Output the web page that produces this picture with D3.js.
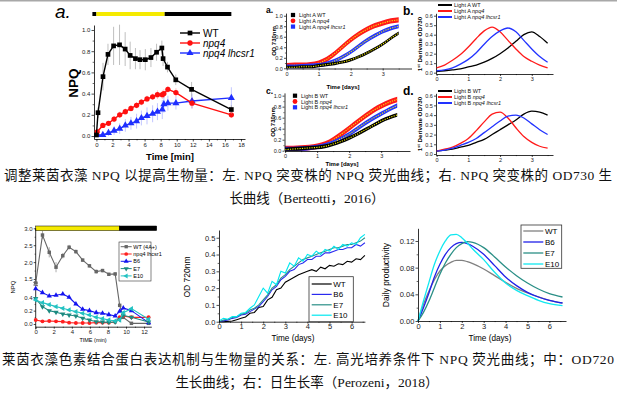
<!DOCTYPE html>
<html>
<head>
<meta charset="utf-8">
<script src="https://cdn.jsdelivr.net/npm/d3@7/dist/d3.min.js"></script>
<style>
body { margin: 0; background: #fff; }
text { font-family: "Liberation Sans", Arial, sans-serif; }
.cap { font-family: "Liberation Serif", "Noto Sans CJK SC", serif; font-size: 13.5px; fill: #111; }
</style>
</head>
<body>
<svg id="fig" width="617" height="395"></svg>
<script>
// ---- top left: NPQ induction (Berteotti) ----
let wtTime = [0, 0.2, 0.82, 1.44, 2.14, 2.88, 3.58, 4.2, 4.86, 5.43, 6.09, 6.79, 7.49, 8.15, 8.3, 8.85, 9.88, 11.85, 16.8];
let wtNpq = [0.01, 0.22, 0.56, 0.77, 0.85, 0.86, 0.82, 0.76, 0.73, 0.72, 0.72, 0.74, 0.79, 0.83, 0.73, 0.65, 0.53, 0.44, 0.25];
let wtErr = [0, 0.05, 0.13, 0.1, 0.18, 0.19, 0.16, 0.13, 0.1, 0.09, 0.1, 0.09, 0.08, 0.07, 0.07, 0.05, 0.05, 0.07, 0.04];
let mutTime = [0.1, 0.8, 1.5, 2.2, 2.9, 3.6, 4.3, 5.0, 5.6, 6.3, 7.0, 7.6, 8.2, 8.4, 8.9, 9.9, 11.9, 16.8];
let npq4Npq = [0.04, 0.1, 0.12, 0.16, 0.2, 0.23, 0.26, 0.29, 0.32, 0.35, 0.37, 0.39, 0.39, 0.4, 0.44, 0.41, 0.31, 0.2];
let npq4Err = [0.02, 0.02, 0.02, 0.03, 0.03, 0.03, 0.03, 0.03, 0.03, 0.03, 0.03, 0.04, 0.04, 0.04, 0.03, 0.04, 0.05, 0.03];
let lhcsrNpq = [0.01, 0.01, 0.03, 0.05, 0.07, 0.1, 0.12, 0.14, 0.17, 0.19, 0.21, 0.23, 0.25, 0.3, 0.31, 0.31, 0.33, 0.36];
let lhcsrErr = [0.01, 0.02, 0.03, 0.04, 0.05, 0.06, 0.06, 0.07, 0.07, 0.08, 0.08, 0.08, 0.09, 0.08, 0.07, 0.06, 0.07, 0.1];
let topLight = [[-0.5, 0, "#000"], [0, 8.5, "#f5ea00"], [8.5, 16.8, "#000"]];

// ---- top middle: OD730 growth ----
let odDays = [0, 0.25, 0.5, 0.75, 1, 1.25, 1.5, 1.75, 2, 2.25, 2.5, 2.75, 3, 3.25, 3.5];
let odAWT = [0.02, 0.02, 0.03, 0.03, 0.05, 0.07, 0.09, 0.12, 0.16, 0.22, 0.29, 0.37, 0.46, 0.57, 0.67];
let odANpq4 = [0.05, 0.06, 0.06, 0.07, 0.1, 0.17, 0.28, 0.41, 0.54, 0.65, 0.74, 0.81, 0.86, 0.9, 0.92];
let odALhcsr = [0.03, 0.03, 0.04, 0.05, 0.06, 0.09, 0.14, 0.22, 0.31, 0.42, 0.53, 0.62, 0.7, 0.76, 0.8];
let odBWT = [0.02, 0.03, 0.04, 0.05, 0.06, 0.08, 0.12, 0.17, 0.23, 0.3, 0.38, 0.46, 0.54, 0.6, 0.65];
let odBNpq4 = [0.04, 0.04, 0.05, 0.06, 0.08, 0.12, 0.2, 0.3, 0.41, 0.52, 0.63, 0.73, 0.81, 0.88, 0.93];
let odBLhcsr = [0.03, 0.03, 0.04, 0.05, 0.07, 0.1, 0.15, 0.22, 0.3, 0.4, 0.5, 0.59, 0.67, 0.75, 0.82];

// ---- top right: first derivative ----
let derAWT = [0.01, 0.02, 0.03, 0.04, 0.06, 0.08, 0.11, 0.15, 0.2, 0.26, 0.33, 0.4, 0.43, 0.38, 0.31];
let derANpq4 = [0.05, 0.08, 0.13, 0.19, 0.27, 0.36, 0.44, 0.48, 0.43, 0.34, 0.25, 0.17, 0.12, 0.08, 0.05];
let derALhcsr = [0.02, 0.03, 0.05, 0.09, 0.14, 0.21, 0.3, 0.38, 0.44, 0.47, 0.43, 0.34, 0.25, 0.17, 0.11];
let derBWT = [0.03, 0.04, 0.05, 0.07, 0.09, 0.12, 0.15, 0.2, 0.25, 0.3, 0.35, 0.41, 0.44, 0.43, 0.4];
let derBNpq4 = [0.03, 0.05, 0.07, 0.11, 0.16, 0.24, 0.33, 0.41, 0.43, 0.37, 0.27, 0.18, 0.12, 0.08, 0.06];
let derBLhcsr = [0.03, 0.04, 0.06, 0.09, 0.12, 0.16, 0.22, 0.28, 0.34, 0.39, 0.4, 0.37, 0.31, 0.25, 0.2];

// ---- bottom left: NPQ under high light (Perozeni) ----
let hlTime = [0, 0.75, 1.5, 2.25, 3, 3.7, 4.45, 5.2, 5.95, 6.7, 7.4, 8.1, 8.8, 9.3, 9.7, 10.6, 12.5];
let hlWT = [1.3, 2.8, 2.29, 1.85, 2.19, 2.44, 2.31, 2.06, 1.89, 1.72, 1.75, 1.64, 1.65, 0.28, 0.1, 0.01, 0.01];
let hlWTErr = [0, 0.12, 0.15, 0.15, 0.08, 0.07, 0.06, 0.05, 0.05, 0.06, 0.05, 0.04, 0.05, 0, 0, 0, 0];
let hlLhcsr = [0.06, 0.04, 0.045, 0.04, 0.035, 0.02, 0.015, 0.015, 0.015, 0.02, 0.02, 0.02, 0.03, 0.1, 0.12, 0.1, 0.1];
let hlB6 = [0.53, 0.47, 0.42, 0.43, 0.45, 0.4, 0.3, 0.22, 0.2, 0.17, 0.16, 0.14, 0.12, 0.19, 0.24, 0.2, 0.02];
let hlE7 = [0.38, 0.26, 0.2, 0.175, 0.15, 0.135, 0.12, 0.085, 0.06, 0.035, 0.03, 0.025, 0.03, 0.07, 0.13, 0.1, 0.03];
let hlE10 = [0.36, 0.32, 0.29, 0.26, 0.235, 0.21, 0.185, 0.16, 0.135, 0.1, 0.08, 0.06, 0.045, 0.06, 0.17, 0.23, 0.07];
let bottomLight = [[0, 9.26, "#f5ea00"], [9.26, 13.4, "#000"]];

// ---- bottom middle: OD720 ----
let growDays = [0, 0.2, 0.4, 0.6, 0.8, 1, 1.2, 1.4, 1.6, 1.8, 2, 2.2, 2.4, 2.6, 2.8, 3, 3.2, 3.4, 3.6, 3.8, 4, 4.2, 4.4, 4.6, 4.8, 5, 5.2, 5.4, 5.6, 5.8, 6, 6.2, 6.4, 6.6];
let growWT = [0, 0, 0.002, 0.004, 0.012, 0.02, 0.028, 0.05, 0.055, 0.085, 0.09, 0.13, 0.145, 0.19, 0.2, 0.235, 0.25, 0.265, 0.28, 0.29, 0.3, 0.31, 0.3, 0.325, 0.315, 0.335, 0.33, 0.345, 0.34, 0.36, 0.355, 0.375, 0.37, 0.395];
let growB6 = [0, 0.005, 0.01, 0.02, 0.025, 0.04, 0.045, 0.06, 0.075, 0.09, 0.12, 0.15, 0.19, 0.21, 0.25, 0.27, 0.3, 0.31, 0.34, 0.35, 0.37, 0.37, 0.39, 0.39, 0.41, 0.41, 0.42, 0.43, 0.43, 0.44, 0.44, 0.46, 0.45, 0.47];
let growE7 = [0, 0.01, 0.015, 0.025, 0.03, 0.045, 0.05, 0.07, 0.08, 0.1, 0.13, 0.16, 0.2, 0.22, 0.26, 0.28, 0.31, 0.33, 0.35, 0.37, 0.38, 0.39, 0.4, 0.41, 0.42, 0.43, 0.44, 0.44, 0.45, 0.46, 0.46, 0.47, 0.48, 0.5];
let growE10 = [0.005, 0.02, 0.015, 0.03, 0.03, 0.05, 0.055, 0.08, 0.1, 0.15, 0.2, 0.17, 0.24, 0.22, 0.3, 0.29, 0.35, 0.33, 0.38, 0.36, 0.4, 0.39, 0.42, 0.4, 0.43, 0.42, 0.45, 0.43, 0.46, 0.45, 0.47, 0.46, 0.5, 0.52];

// ---- bottom right: daily productivity ----
let prodDays = [0, 0.25, 0.5, 0.75, 1, 1.25, 1.5, 1.75, 2, 2.25, 2.5, 3, 3.5, 4, 4.5, 5, 5.5, 6, 6.6];
let prodWT = [0, 0.025, 0.045, 0.062, 0.075, 0.083, 0.088, 0.091, 0.091, 0.089, 0.086, 0.078, 0.068, 0.058, 0.049, 0.042, 0.036, 0.031, 0.027];
let prodB6 = [0, 0.02, 0.042, 0.066, 0.085, 0.1, 0.11, 0.116, 0.118, 0.116, 0.112, 0.1, 0.083, 0.066, 0.053, 0.043, 0.036, 0.031, 0.027];
let prodE7 = [0, 0.013, 0.03, 0.05, 0.07, 0.087, 0.1, 0.11, 0.116, 0.119, 0.118, 0.11, 0.096, 0.081, 0.068, 0.057, 0.048, 0.041, 0.036];
let prodE10 = [0, 0.03, 0.058, 0.085, 0.105, 0.12, 0.129, 0.13, 0.125, 0.117, 0.108, 0.092, 0.073, 0.057, 0.046, 0.038, 0.031, 0.026, 0.023];

let svg = d3.select("#fig");
svg.append("rect").attr("x", 0).attr("y", 0).attr("width", 617).attr("height", 1.5).attr("fill", "#a8a8a8");

function zip(xs, ys) { return xs.map(function(t, i) { return {t: t, v: ys[i]}; }); }

function addAxis(side, scale, pos, major, minor, fmt, fs, len, pad)
{
	let mk = side === "bottom" ? d3.axisBottom : d3.axisLeft;
	let tr = side === "bottom" ? "translate(0," + pos + ")" : "translate(" + pos + ",0)";
	let g = svg.append("g").attr("transform", tr)
		.call(mk(scale).tickValues(major).tickFormat(fmt).tickSize(len).tickSizeOuter(0).tickPadding(pad === undefined ? 1.2 : pad));
	g.attr("font-size", fs).attr("font-family", "Liberation Sans, Arial, sans-serif");
	g.select(".domain").attr("stroke-width", 0.8);
	g.selectAll(".tick line").attr("stroke-width", 0.7);
	g.selectAll(".tick text").attr("fill", "#222");
	if (minor) {
		let m = svg.append("g").attr("transform", tr)
			.call(mk(scale).tickValues(minor).tickFormat("").tickSize(len * 0.55).tickSizeOuter(0));
		m.select(".domain").remove();
		m.selectAll(".tick line").attr("stroke-width", 0.6);
	}
	return g;
}

function label(x, y, txt, fs, opts)
{
	opts = opts || {};
	let t = svg.append("text").attr("x", x).attr("y", y).attr("font-size", fs).text(txt)
		.attr("text-anchor", opts.anchor || "start");
	if (opts.bold) t.attr("font-weight", "bold");
	if (opts.italic) t.attr("font-style", "italic");
	if (opts.rotate) t.attr("transform", "rotate(-90," + x + "," + y + ")");
	return t;
}

// ================= top left =================
function drawTopNpq()
{
	let x = d3.scaleLinear().domain([-0.3, 18.5]).range([94, 245]);
	let y = d3.scaleLinear().domain([-0.028, 1.047]).range([139, 25]);

	svg.append("g").selectAll("rect").data(topLight).enter().append("rect")
		.attr("x", function(d) { return x(d[0]); }).attr("width", function(d) { return x(d[1]) - x(d[0]); })
		.attr("y", 12).attr("height", 4).attr("fill", function(d) { return d[2]; });

	addAxis("bottom", x, 139, d3.range(0, 19, 2), d3.range(1, 18, 2), d3.format("d"), 6, 2.5);
	addAxis("left", y, 94, [0, 0.2, 0.4, 0.6, 0.8, 1.0], [0.1, 0.3, 0.5, 0.7, 0.9], d3.format(".1f"), 6, 2.5);

	let series = [
		{t: mutTime, v: lhcsrNpq, e: lhcsrErr, c: "#1f2fff", sym: d3.symbolTriangle, size: 22},
		{t: mutTime, v: npq4Npq, e: npq4Err, c: "#ff1010", sym: d3.symbolCircle, size: 22},
		{t: wtTime, v: wtNpq, e: wtErr, c: "#000", sym: d3.symbolSquare, size: 22}
	];
	let line = d3.line().x(function(d) { return x(d.t); }).y(function(d) { return y(d.v); });
	series.forEach(function(s) {
		let pts = s.t.map(function(t, i) { return {t: t, v: s.v[i], e: s.e[i]}; });
		let g = svg.append("g");
		g.selectAll("line.err").data(pts).enter().append("line")
			.attr("x1", function(d) { return x(d.t); }).attr("x2", function(d) { return x(d.t); })
			.attr("y1", function(d) { return y(d.v - d.e); }).attr("y2", function(d) { return y(d.v + d.e); })
			.attr("stroke", s.c === "#000" ? "#9a9a9a" : s.c).attr("stroke-opacity", s.c === "#000" ? 0.8 : 0.35).attr("stroke-width", 0.8);
		g.append("path").datum(pts).attr("d", line).attr("fill", "none").attr("stroke", s.c).attr("stroke-width", 1.4);
		g.selectAll("path.m").data(pts).enter().append("path").attr("class", "m")
			.attr("transform", function(d) { return "translate(" + x(d.t) + "," + y(d.v) + ")"; })
			.attr("d", d3.symbol().type(s.sym).size(s.size)).attr("fill", s.c);
	});

	let leg = [["WT", "#000", d3.symbolSquare, false], ["npq4", "#ff1010", d3.symbolCircle, true], ["npq4 lhcsr1", "#1f2fff", d3.symbolTriangle, true]];
	leg.forEach(function(l, i) {
		let ly = 33 + i * 10;
		svg.append("line").attr("x1", 180).attr("x2", 200).attr("y1", ly).attr("y2", ly).attr("stroke", l[1]).attr("stroke-width", 1.4);
		svg.append("path").attr("transform", "translate(190," + ly + ")").attr("d", d3.symbol().type(l[2]).size(22)).attr("fill", l[1]);
		label(203, ly + 3.5, l[0], 10, {italic: l[3]});
	});

	label(55, 18, "a.", 19, {italic: true});
	label(78, 83, "NPQ", 13.5, {bold: true, rotate: true, anchor: "middle"});
	label(170, 160, "Time [min]", 9.5, {bold: true, anchor: "middle"});
}

// ================= top middle: OD730 =================
function drawOd(x, y, rows, legY, legX, light)
{
	rows.forEach(function(r) {
		let pts = zip(odDays, r.v);
		let area = d3.area().x(function(d) { return x(d.t); })
			.y0(function(d) { return y(Math.max(0, d.v - r.w)); })
			.y1(function(d) { return y(d.v + r.w); }).curve(d3.curveMonotoneX);
		svg.append("path").datum(pts).attr("d", area).attr("fill", r.c);
		svg.append("path").datum(pts).attr("d", d3.line().x(function(d) { return x(d.t); }).y(function(d) { return y(d.v); }).curve(d3.curveMonotoneX))
			.attr("fill", "none").attr("stroke", "#f4f000").attr("stroke-width", 1.1).attr("stroke-dasharray", "1.2,1.2");
	});
	let legend = [["WT", "#000", d3.symbolSquare], ["npq4", "#ff1010", d3.symbolCircle], ["npq4 lhcsr1", "#1f2fff", d3.symbolSquare]];
	legend.forEach(function(l, i) {
		let ly = legY + i * 5.8;
		svg.append("path").attr("transform", "translate(" + legX + "," + ly + ")").attr("d", d3.symbol().type(l[2]).size(18)).attr("fill", l[1]);
		let t = svg.append("text").attr("x", legX + 6).attr("y", ly + 2).attr("font-size", 5.5).attr("fill", "#111");
		t.append("tspan").text("Light " + light + " ");
		t.append("tspan").attr("font-style", i ? "italic" : "normal").text(l[0]);
	});
}

function drawTopGrowth()
{
	let xA = d3.scaleLinear().domain([-0.02, 3.9]).range([286, 411.5]);
	let yA = d3.scaleLinear().domain([0, 1.05]).range([68.3, 13.1]);
	let xB = d3.scaleLinear().domain([-0.02, 3.9]).range([284.5, 410]);
	let yB = d3.scaleLinear().domain([0, 1.05]).range([150.7, 92.9]);

	drawOd(xA, yA, [{v: odANpq4, c: "#ff1a1a", w: 0.05}, {v: odALhcsr, c: "#2233ff", w: 0.04}, {v: odAWT, c: "#000", w: 0.03}], 15, 293, "A");
	drawOd(xB, yB, [{v: odBNpq4, c: "#ff1a1a", w: 0.05}, {v: odBLhcsr, c: "#2233ff", w: 0.04}, {v: odBWT, c: "#000", w: 0.035}], 95.7, 295, "B");

	[[xA, yA, 68.5, 286], [xB, yB, 151, 284.5]].forEach(function(p) {
		addAxis("bottom", p[0], p[2], [0, 1, 2, 3], [0.5, 1.5, 2.5, 3.5], d3.format("d"), 5.5, 2);
		addAxis("left", p[1], p[3], [0, 0.2, 0.4, 0.6, 0.8, 1.0], [0.1, 0.3, 0.5, 0.7, 0.9], d3.format(".1f"), 5.5, 2);
	});
	label(276, 41, "OD 730nm", 6, {bold: true, rotate: true, anchor: "middle"});
	label(275, 122, "OD 730nm", 6, {bold: true, rotate: true, anchor: "middle"});
	label(343, 89, "Time [days]", 6, {bold: true, anchor: "middle"});
	label(342, 166, "Time [days]", 6, {bold: true, anchor: "middle"});
	label(266, 13, "a.", 8.5, {bold: true});
	label(266, 94, "c.", 8.5, {bold: true});
}

// ================= top right: derivative =================
function drawDeriv(y, axisY, rows, legY, light)
{
	let x = d3.scaleLinear().domain([-0.02, 3.67]).range([436, 553]);
	addAxis("bottom", x, axisY, [0, 1, 2, 3], [0.5, 1.5, 2.5, 3.5], d3.format("d"), 5.5, 2);
	addAxis("left", y, 436, [0, 0.1, 0.2, 0.3, 0.4, 0.5, 0.6], null, d3.format(".1f"), 5.5, 2);
	let line = d3.line().x(function(d) { return x(d.t); }).y(function(d) { return y(d.v); }).curve(d3.curveMonotoneX);
	rows.forEach(function(r) {
		svg.append("path").datum(zip(odDays, r.v)).attr("d", line).attr("fill", "none").attr("stroke", r.c).attr("stroke-width", 1.3);
	});
	let names = ["WT", "npq4", "npq4 lhcsr1"], cols = ["#000", "#ff1a1a", "#2233ff"];
	names.forEach(function(n, i) {
		let ly = legY + i * 6;
		svg.append("line").attr("x1", 438).attr("x2", 452).attr("y1", ly).attr("y2", ly).attr("stroke", cols[i]).attr("stroke-width", 2);
		let t = svg.append("text").attr("x", 454).attr("y", ly + 2).attr("font-size", 5.5).attr("fill", "#111");
		t.append("tspan").text("Light " + light + " ");
		t.append("tspan").attr("font-style", i ? "italic" : "normal").text(n);
	});
}

function drawTopDeriv()
{
	let yA = d3.scaleLinear().domain([-0.014, 0.625]).range([74, 13.3]);
	let yB = d3.scaleLinear().domain([-0.01, 0.624]).range([155, 93.3]);
	drawDeriv(yA, 74, [{v: derAWT, c: "#000"}, {v: derANpq4, c: "#ff1a1a"}, {v: derALhcsr, c: "#2233ff"}], 5, "A");
	drawDeriv(yB, 155, [{v: derBWT, c: "#000"}, {v: derBNpq4, c: "#ff1a1a"}, {v: derBLhcsr, c: "#2233ff"}], 91, "B");
	[44, 124].forEach(function(cy) {
		let t = svg.append("text").attr("x", 422).attr("y", cy).attr("font-size", 6.2).attr("font-weight", "bold")
			.attr("text-anchor", "middle").attr("transform", "rotate(-90,422," + cy + ")");
		t.append("tspan").text("1");
		t.append("tspan").attr("font-size", 4).attr("dy", -2.5).text("st");
		t.append("tspan").attr("dy", 2.5).text(" Derivate OD730");
	});
	label(403, 15, "b.", 12, {bold: true});
	label(403, 95, "d.", 12, {bold: true});
}

// ================= bottom left: broken-axis NPQ =================
function drawBottomNpq()
{
	let x = d3.scaleLinear().domain([0, 12.8]).range([35.7, 151.3]);
	let y = d3.scaleLinear().domain([0, 0.55, 1.4, 3.0]).range([324, 287.3, 282.4, 228.3]);

	svg.append("g").selectAll("rect").data(bottomLight).enter().append("rect")
		.attr("x", function(d) { return x(d[0]); }).attr("width", function(d) { return x(d[1]) - x(d[0]); })
		.attr("y", 226).attr("height", 4.6).attr("fill", function(d) { return d[2]; })
		.attr("stroke", "#000").attr("stroke-width", 0.5);

	addAxis("bottom", x, 326.7, d3.range(0, 13, 2), d3.range(1, 13, 2), d3.format("d"), 6, 2, 0.6);
	let ya = addAxis("left", y, 35.7, [0, 0.2, 0.4, 1.5, 2.0, 2.5, 3.0], [0.1, 0.3, 1.75, 2.25, 2.75], d3.format(".1f"), 6, 2);
	ya.select(".domain").remove();
	[[-0.04, 0.53], [1.38, 3.0]].forEach(function(s) {
		svg.append("line").attr("x1", 35.7).attr("x2", 35.7).attr("y1", y(s[0]) + (s[0] < 0 ? 2.7 : 0)).attr("y2", y(s[1]))
			.attr("stroke", "#000").attr("stroke-width", 0.8);
	});
	[282.3, 285].forEach(function(by) {
		svg.append("line").attr("x1", 33.3).attr("x2", 38).attr("y1", by).attr("y2", by + 0.8).attr("stroke", "#000").attr("stroke-width", 0.6);
	});

	let series = [
		{v: hlWT, c: "#666", sym: d3.symbolSquare, rot: 0, name: "WT (4A+)"},
		{v: hlLhcsr, c: "#ff2020", sym: d3.symbolCircle, rot: 0, name: "npq4 lhcsr1"},
		{v: hlB6, c: "#1414f0", sym: d3.symbolTriangle, rot: 0, name: "B6"},
		{v: hlE7, c: "#1c8a80", sym: d3.symbolTriangle, rot: 180, name: "E7"},
		{v: hlE10, c: "#22c2c2", sym: d3.symbolTriangle, rot: -90, name: "E10"}
	];
	let line = d3.line().x(function(d) { return x(d.t); }).y(function(d) { return y(d.v); });
	svg.append("g").selectAll("line").data(zip(hlTime, hlWT).map(function(d, i) { d.e = hlWTErr[i]; return d; })).enter().append("line")
		.attr("x1", function(d) { return x(d.t); }).attr("x2", function(d) { return x(d.t); })
		.attr("y1", function(d) { return y(d.v - d.e); }).attr("y2", function(d) { return y(d.v + d.e); })
		.attr("stroke", "#888").attr("stroke-width", 0.7);
	series.forEach(function(s) {
		let pts = zip(hlTime, s.v);
		svg.append("path").datum(pts).attr("d", line).attr("fill", "none").attr("stroke", s.c).attr("stroke-width", 1.1);
		svg.append("g").selectAll("path").data(pts).enter().append("path")
			.attr("transform", function(d) { return "translate(" + x(d.t) + "," + y(d.v) + ") rotate(" + s.rot + ")"; })
			.attr("d", d3.symbol().type(s.sym).size(12)).attr("fill", s.c);
	});

	svg.append("rect").attr("x", 119).attr("y", 242).attr("width", 32).attr("height", 39)
		.attr("fill", "#fff").attr("stroke", "#333").attr("stroke-width", 0.6);
	series.forEach(function(s, i) {
		let ly = 246.7 + i * 7.3;
		svg.append("line").attr("x1", 120.7).attr("x2", 131.7).attr("y1", ly).attr("y2", ly).attr("stroke", s.c).attr("stroke-width", 1);
		svg.append("path").attr("transform", "translate(126.2," + ly + ") rotate(" + s.rot + ")").attr("d", d3.symbol().type(s.sym).size(11)).attr("fill", s.c);
		label(133.3, ly + 2, s.name, 5.5);
	});

	label(15, 287, "NPQ", 6, {rotate: true, anchor: "middle"});
	label(93, 342, "TIME (min)", 5.5, {anchor: "middle"});
}

// ================= bottom middle: OD720 =================
function drawBottomGrowth()
{
	let x = d3.scaleLinear().domain([0, 6.6]).range([219, 364.9]);
	let y = d3.scaleLinear().domain([0, 0.546]).range([321.7, 230]);
	let line = d3.line().x(function(d) { return x(d.t); }).y(function(d) { return y(d.v); });
	let rows = [["WT", growWT, "#000"], ["B6", growB6, "#2a2af0"], ["E7", growE7, "#2a8f86"], ["E10", growE10, "#00e8f0"]];
	rows.forEach(function(r) {
		svg.append("path").datum(zip(growDays, r[1])).attr("d", line).attr("fill", "none").attr("stroke", r[2]).attr("stroke-width", 1.1);
	});
	addAxis("bottom", x, 321.7, [0, 1, 2, 3, 4, 5, 6], [0.5, 1.5, 2.5, 3.5, 4.5, 5.5, 6.5], d3.format("d"), 7.5, 2, 0.4);
	addAxis("left", y, 219, [0, 0.1, 0.2, 0.3, 0.4, 0.5], [0.05, 0.15, 0.25, 0.35, 0.45], d3.format(".1f"), 7.5, 2.5);

	svg.append("rect").attr("x", 309).attr("y", 276.7).attr("width", 44.3).attr("height", 45)
		.attr("fill", "#fff").attr("stroke", "#333").attr("stroke-width", 0.8);
	rows.forEach(function(r, i) {
		let ly = 284 + i * 10.4;
		svg.append("line").attr("x1", 311.7).attr("x2", 331.7).attr("y1", ly).attr("y2", ly).attr("stroke", r[2]).attr("stroke-width", 1.2);
		label(333.3, ly + 2.8, r[0], 8);
	});
	label(190, 277, "OD 720nm", 8.5, {rotate: true, anchor: "middle"});
	label(293, 340.5, "Time (days)", 8.2, {anchor: "middle"});
}

// ================= bottom right: productivity =================
function drawProductivity()
{
	let x = d3.scaleLinear().domain([0, 6.76]).range([418, 566]);
	let y = d3.scaleLinear().domain([0, 0.139]).range([321, 228.3]);
	let line = d3.line().x(function(d) { return x(d.t); }).y(function(d) { return y(d.v); }).curve(d3.curveMonotoneX);
	let rows = [["WT", prodWT, "#808080"], ["B6", prodB6, "#2020e8"], ["E7", prodE7, "#2a8f86"], ["E10", prodE10, "#10e8f0"]];
	rows.forEach(function(r) {
		svg.append("path").datum(zip(prodDays, r[1])).attr("d", line).attr("fill", "none").attr("stroke", r[2]).attr("stroke-width", 1.3);
	});
	addAxis("bottom", x, 321, [0, 1, 2, 3, 4, 5, 6], [0.5, 1.5, 2.5, 3.5, 4.5, 5.5, 6.5], d3.format("d"), 7.5, 2, 0.4);
	addAxis("left", y, 418, [0, 0.04, 0.08, 0.12], [0.02, 0.06, 0.1], d3.format(".2f"), 7.5, 2.5);

	svg.append("rect").attr("x", 521).attr("y", 225).attr("width", 40.7).attr("height", 43.3)
		.attr("fill", "#fff").attr("stroke", "#333").attr("stroke-width", 0.8);
	rows.forEach(function(r, i) {
		let ly = 231 + i * 11;
		svg.append("line").attr("x1", 523.3).attr("x2", 543.3).attr("y1", ly).attr("y2", ly).attr("stroke", r[2]).attr("stroke-width", 1.3);
		label(545, ly + 2.8, r[0], 8);
	});
	label(389, 275, "Daily productivity", 8.5, {rotate: true, anchor: "middle"});
	label(490, 340.5, "Time (days)", 8.2, {anchor: "middle"});
}

drawTopNpq();
drawTopGrowth();
drawTopDeriv();
drawBottomNpq();
drawBottomGrowth();
drawProductivity();

// captions
function caption(txt, x, y, len, anchor)
{
	let t = svg.append("text").attr("class", "cap").attr("x", x).attr("y", y).attr("text-anchor", anchor).text(txt);
	if (len) t.attr("textLength", len).attr("lengthAdjust", "spacing");
}
caption("调整莱茵衣藻 NPQ 以提高生物量：左. NPQ 突变株的 NPQ 荧光曲线；右. NPQ 突变株的 OD730 生", 4, 180, 608, "start");
caption("长曲线（Berteotti，2016）", 307, 203, null, "middle");
caption("莱茵衣藻色素结合蛋白表达机制与生物量的关系：左. 高光培养条件下 NPQ 荧光曲线；中：OD720", 2, 364, 612, "start");
caption("生长曲线；右：日生长率（Perozeni，2018）", 307, 387, null, "middle");
</script>
</body>
</html>
